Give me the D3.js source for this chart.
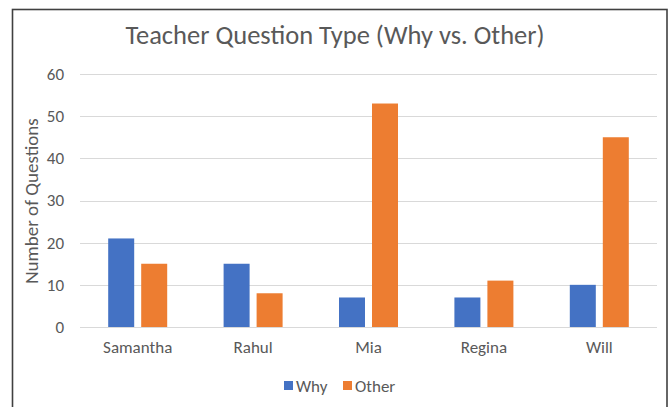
<!DOCTYPE html>
<html><head><meta charset="utf-8">
<script src="https://cdn.jsdelivr.net/npm/d3@7"></script>
<style>body{margin:0;background:#fff;}svg{display:block;}</style>
</head><body>
<script>
const categories = ["Samantha", "Rahul", "Mia", "Regina", "Will"];
const seriesNames = ["Why", "Other"];
const whyValues = [21, 15, 7, 7, 10];
const otherValues = [15, 8, 53, 11, 45];
const yTicks = [0, 10, 20, 30, 40, 50, 60];
const colors = ["#4472C4", "#ED7D31"];

(function () {
const W = 669, H = 407;
const svg = d3.select("body").append("svg").attr("width", W).attr("height", H);
const font = "Carlito, 'Open Sans', 'Liberation Sans', sans-serif";

svg.append("rect").attr("x", 12.5).attr("y", 9.5).attr("width", 654.5).attr("height", 405)
  .attr("fill", "#fff").attr("stroke", "#404040").attr("stroke-width", 1.6);

const pLeft = 80, pRight = 657, pTop = 74, pBottom = 327;
const x = d3.scaleBand().domain(categories).range([pLeft, pRight]).paddingInner(0).paddingOuter(0);
const y = d3.scaleLinear().domain([0, 60]).range([pBottom, pTop]);
const barW = 26, gap = 7;

// grid
svg.append("g").selectAll("line").data(yTicks).join("line")
  .attr("x1", pLeft).attr("x2", pRight)
  .attr("y1", d => Math.round(y(d)) + 0.5).attr("y2", d => Math.round(y(d)) + 0.5)
  .attr("stroke", "#d9d9d9").attr("stroke-width", 1);

// y axis labels
const yAxis = d3.axisLeft(y).tickValues(yTicks).tickSize(0).tickPadding(0);
const gy = svg.append("g").attr("transform", `translate(64,0)`).call(yAxis);
gy.select(".domain").remove();
gy.selectAll("text").attr("font-family", font).attr("font-size", 17).attr("fill", "#595959");

// x axis labels
const xAxis = d3.axisBottom(x).tickSize(0).tickPadding(0);
const gx = svg.append("g").attr("transform", `translate(0,${pBottom})`).call(xAxis);
gx.select(".domain").remove();
gx.selectAll("text").attr("font-family", font).attr("font-size", 17).attr("fill", "#595959")
  .attr("y", 26).attr("dy", null);

const data = categories.map((c, i) => ({ cat: c, vals: [whyValues[i], otherValues[i]] }));
const groupW = barW * 2 + gap;
const g = svg.append("g").selectAll("g").data(data).join("g")
  .attr("transform", d => `translate(${x(d.cat) + (x.bandwidth() - groupW) / 2},0)`);
g.selectAll("rect").data(d => d.vals.map((v, j) => ({ v, j }))).join("rect")
  .attr("x", d => d.j * (barW + gap))
  .attr("width", barW)
  .attr("y", d => y(d.v))
  .attr("height", d => y(0) - y(d.v))
  .attr("fill", d => colors[d.j]);

// title
svg.append("text").attr("x", 335).attr("y", 44).attr("text-anchor", "middle")
  .attr("font-family", font).attr("font-size", 26.5).attr("fill", "#595959")
  .text("Teacher Question Type (Why vs. Other)");

// y label
svg.append("text").attr("transform", "translate(38,201) rotate(-90)").attr("text-anchor", "middle")
  .attr("font-family", font).attr("font-size", 19).attr("fill", "#595959")
  .text("Number of Questions");

// legend
const legX = [284, 343];
const lg = svg.append("g").selectAll("g").data(seriesNames).join("g")
  .attr("transform", (d, i) => `translate(${legX[i]},381)`);
lg.append("rect").attr("width", 9).attr("height", 9).attr("fill", (d, i) => colors[i]);
lg.append("text").attr("x", 12).attr("y", 10.5).attr("font-family", font).attr("font-size", 17)
  .attr("fill", "#595959").text(d => d);
})();
</script>
</body></html>
